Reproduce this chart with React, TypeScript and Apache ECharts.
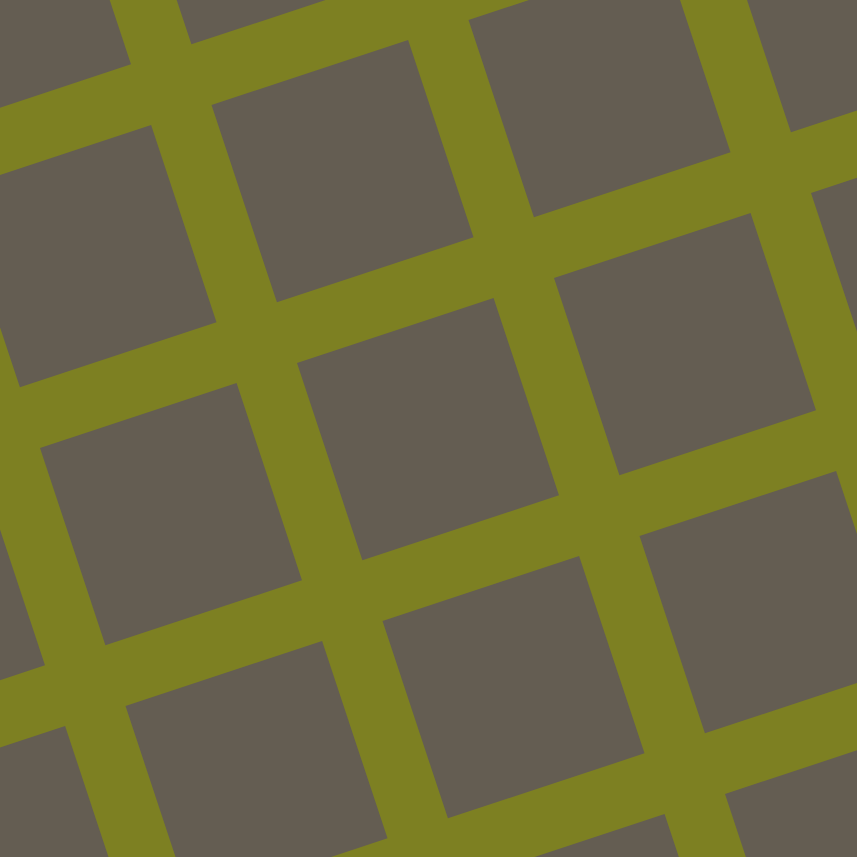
import React, { useEffect, useRef } from "react";
import * as echarts from "echarts";

// Lattice indices of the grey tiles
const colIndices = [-4, -3, -2, -1, 0, 1, 2, 3, 4];
const rowIndices = [-4, -3, -2, -1, 0, 1, 2, 3, 4];
const watermark = "pixlis.com";

// Lattice geometry (in pixel-domain data units)
const ORIGIN = [297, 363];
const U = [257, -85];
const V = [85.5, 258];
const TILE = 0.765;

const tiles: number[][] = [];
for (const i of colIndices) for (const j of rowIndices) tiles.push([i, j]);

export default function App() {
  const ref = useRef<HTMLDivElement>(null);
  useEffect(() => {
    const chart = echarts.init(ref.current!, undefined, { renderer: "svg" });
    chart.setOption({
      animation: false,
      backgroundColor: "#7d8022",
      grid: { left: 0, right: 0, top: 0, bottom: 0 },
      xAxis: { type: "value", min: 0, max: 857, show: false },
      yAxis: { type: "value", min: 0, max: 857, inverse: true, show: false },
      series: [
        {
          type: "custom",
          data: tiles,
          clip: true,
          renderItem: (params: any, api: any) => {
            const i = api.value(0);
            const j = api.value(1);
            const px = ORIGIN[0] + i * U[0] + j * V[0];
            const py = ORIGIN[1] + i * U[1] + j * V[1];
            const pts = [
              [px, py],
              [px + TILE * U[0], py + TILE * U[1]],
              [px + TILE * (U[0] + V[0]), py + TILE * (U[1] + V[1])],
              [px + TILE * V[0], py + TILE * V[1]],
            ].map((p) => api.coord(p));
            return {
              type: "polygon",
              shape: { points: pts },
              style: { fill: "#645d52" },
            };
          },
        },
      ],
      graphic: [
        {
          type: "text",
          right: 12,
          bottom: 4,
          style: {
            text: watermark,
            fill: "#4a453c",
            font: "bold 9px 'DejaVu Sans'",
          },
        },
      ],
    });
    return () => chart.dispose();
  }, []);
  return (
    <div
      ref={ref}
      style={{ position: "fixed", left: 0, top: 0, width: 857, height: 857 }}
    />
  );
}
